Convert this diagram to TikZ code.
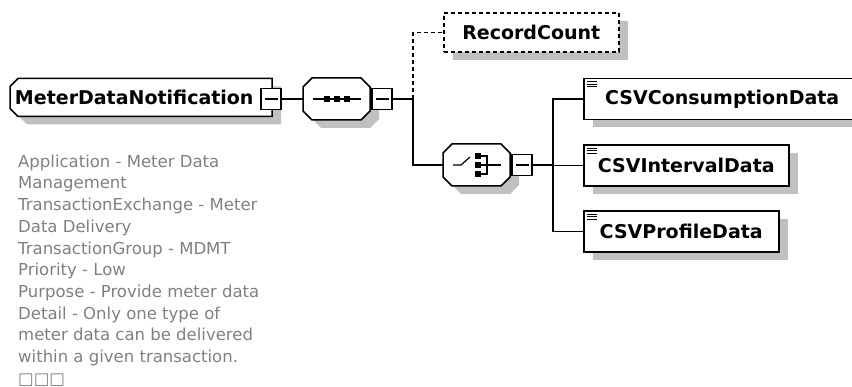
\documentclass[tikz,border=0pt]{standalone}
\usepackage{fontspec}
\setmainfont{DejaVu Sans}
\usetikzlibrary{positioning}
\usetikzlibrary{shadows}
\usetikzlibrary{backgrounds}
\definecolor{shade}{RGB}{192,192,192}
\definecolor{notegray}{RGB}{128,128,128}
\tikzset{lbl/.style={font=\fontsize{19}{22}\selectfont\bfseries}}
\tikzset{shd/.style={drop shadow={shadow xshift=9pt,shadow yshift=-8pt,fill=shade,opacity=1}}}
\tikzset{elem/.style={draw,line width=1.5pt,fill=white,minimum height=41pt,inner sep=0pt,anchor=west,lbl,shd}}
\tikzset{optelem/.style={elem,dash pattern=on 4pt off 3pt}}
\tikzset{compbox/.style={minimum width=67pt,minimum height=42pt,inner sep=0pt,outer sep=0pt,anchor=west}}
\tikzset{outline/.style={draw,line width=1.5pt,fill=white,shd}}
\tikzset{minus/.style={draw,line width=1.5pt,fill=white,minimum width=20pt,minimum height=21pt,inner sep=0pt,
  path picture={\draw[line width=1.3pt] ([xshift=-6.5pt]path picture bounding box.center) -- ([xshift=6.5pt]path picture bounding box.center);}}}
\tikzset{conn/.style={line width=1.2pt}}
\tikzset{icon/.style={line width=1.2pt}}
% cut-corner outlines round a named node
\newcommand{\octpath}[2]{([xshift=#2]#1.north west) -- ([xshift=-#2]#1.north east) -- ([yshift=-#2]#1.north east)
  -- ([yshift=#2]#1.south east) -- ([xshift=-#2]#1.south east) -- ([xshift=#2]#1.south west)
  -- ([yshift=#2]#1.south west) -- ([yshift=-#2]#1.north west) -- cycle}
\newcommand{\leftcutpath}[2]{([xshift=#2]#1.north west) -- (#1.north east) -- (#1.south east)
  -- ([xshift=#2]#1.south west) -- ([yshift=#2]#1.south west) -- ([yshift=-#2]#1.north west) -- cycle}

\begin{document}
\begin{tikzpicture}[x=1pt,y=-1pt]
    \useasboundingbox (0,0) rectangle (852,387);

    \node[lbl, anchor=west, minimum height=38pt, text width=252pt, inner xsep=5pt, inner ysep=0pt,
      outer sep=0pt, align=left] (mdn) at (10,97.5) {MeterDataNotification};
    \begin{scope}[on background layer]
      \draw[outline] \leftcutpath{mdn}{8pt};
    \end{scope}
    \node[minus] (mdnminus) at (271,99) {};

    \node[compbox] (seq) at (303,99) {};
    \draw[outline] \octpath{seq}{9pt};
    \node[minus] (seqminus) at (382,99) {};
    \coordinate (seqfork) at (413,99);

    \node[optelem, minimum width=175pt, minimum height=39pt] (rc) at (443,32.5) {RecordCount};

    \node[compbox] (choice) at (443,165) {};
    \draw[outline] \octpath{choice}{9pt};
    \node[minus] (choiceminus) at (522,165) {};
    \coordinate (choicefork) at (553,165);

    \node[elem, minimum width=277pt] (consumption) at (583,99) {CSVConsumptionData};
    \node[elem, minimum width=205pt] (interval) at (583,165.5) {CSVIntervalData};
    \node[elem, minimum width=195pt] (profile) at (583,231.5) {CSVProfileData};

    \draw[conn] (mdnminus.east) -- (seq.west);
    \draw[conn] (seqminus.east) -- (seqfork);
    \draw[conn, dash pattern=on 4pt off 3pt] (seqfork) |- (rc.west);
    \draw[conn] (seqfork) |- (choice.west);
    \draw[conn] (choiceminus.east) -- (choicefork);
    \foreach \c in {consumption,interval,profile}
      \draw[conn] (choicefork) |- (\c.west);

    % sequence icon
    \draw[icon] ([xshift=-24pt]seq.center) -- ([xshift=24pt]seq.center);
    \foreach \dx in {-10,0,10}
      \fill ([xshift=\dx pt]seq.center) ++(-3pt,-3pt) rectangle ++(6pt,6pt);

    % choice icon
    \draw[icon] ([xshift=-23.5pt]choice.center) -- ++(8pt,0pt) -- ++(9pt,8pt);
    \foreach \dy in {-9,0,9}
      \fill ([yshift=\dy pt]choice.center) ++(-1.5pt,-3pt) rectangle ++(6pt,6pt);
    \draw[icon] ([shift={(4.5pt,9pt)}]choice.center) -- ++(6pt,0pt) -- ++(0pt,-18pt) -- ++(-6pt,0pt);
    \draw[icon] ([xshift=4.5pt]choice.center) -- ++(19.5pt,0pt);

    % element icons
    \foreach \c in {consumption,interval,profile}{
      \draw[line width=1pt] ([shift={(4pt,-4pt)}]\c.north west) -- ++(10pt,0pt);
      \draw[line width=1pt] ([shift={(4pt,-6.5pt)}]\c.north west) -- ++(10pt,0pt);
      \draw[line width=1pt] ([shift={(4pt,-9pt)}]\c.north west) -- ++(10pt,0pt);
    }

    \node[anchor=north west, inner sep=0pt, align=left, text=notegray,
      font=\fontsize{16.5}{21.7}\selectfont] (note) at (18,154.5)
      {Application - Meter Data\\
       Management\\
       TransactionExchange - Meter\\
       Data Delivery\\
       TransactionGroup - MDMT\\
       Priority - Low\\
       Purpose - Provide meter data\\
       Detail - Only one type of\\
       meter data can be delivered\\
       within a given transaction.\\
       □□□};
\end{tikzpicture}
\end{document}
